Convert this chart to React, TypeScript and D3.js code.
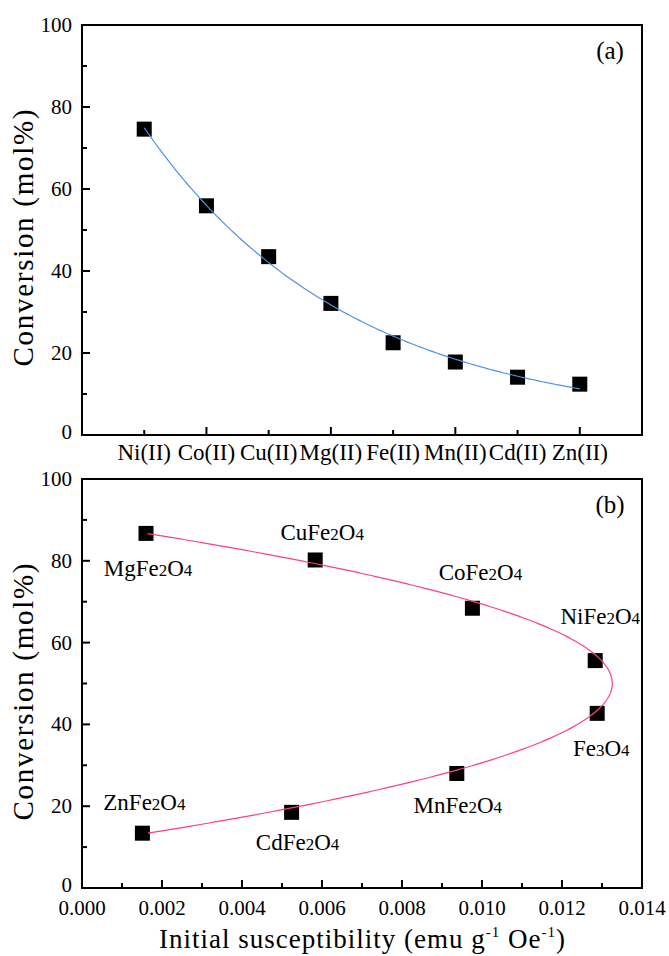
import React, { useEffect, useRef } from "react";
import * as d3 from "d3";

// panel (a): conversion vs. metal ion
const metals = ["Ni(II)", "Co(II)", "Cu(II)", "Mg(II)", "Fe(II)", "Mn(II)", "Cd(II)", "Zn(II)"];
const conversionA = [74.6, 55.9, 43.5, 32.1, 22.5, 17.8, 14.1, 12.4];

// panel (b): conversion vs. initial susceptibility
const ferrites = ["MgFe2O4", "CuFe2O4", "CoFe2O4", "NiFe2O4", "Fe3O4", "MnFe2O4", "CdFe2O4", "ZnFe2O4"];
const susceptibility = [0.0016, 0.00583, 0.00976, 0.01283, 0.01288, 0.00937, 0.00524, 0.00151];
const conversionB = [86.7, 80.2, 68.4, 55.6, 42.7, 28.0, 18.5, 13.4];
// fit weights (end points pinned harder)
const fitWeights = [5, 1, 1, 1, 1, 1, 1, 5];

// label offsets (px) from each point in panel (b)
const labelOffsets = [
  [2, 43], [7, -20], [8, -28], [5, -37], [4, 43], [1, 40], [6, 38], [2, -23],
];

const W = 669;
const H = 956;
const FONT = "'Liberation Serif', 'Times New Roman', serif";

// exponential decay fit y = y0 + A*exp(-x/t)
function fitExp(xs: number[], ys: number[]) {
  let best = { sse: Infinity, y0: 0, a: 0, t: 1 };
  for (let t = 0.3; t < 30; t += 0.01) {
    const e = xs.map(x => Math.exp(-x / t));
    const n = xs.length;
    const se = d3.sum(e), sy = d3.sum(ys);
    const see = d3.sum(e, v => v * v);
    const sey = d3.sum(e.map((v, i) => v * ys[i]));
    const det = n * see - se * se;
    const a = (n * sey - se * sy) / det;
    const y0 = (sy - a * se) / n;
    const sse = d3.sum(ys.map((y, i) => (y - y0 - a * e[i]) ** 2));
    if (sse < best.sse) best = { sse, y0, a, t };
  }
  return (x: number) => best.y0 + best.a * Math.exp(-x / best.t);
}

// weighted least-squares polynomial x = sum c_k * u^k, with u = (y - 50) / 50
function fitPoly(ys: number[], xs: number[], ws: number[], deg: number) {
  const us = ys.map(y => (y - 50) / 50);
  const m = deg + 1;
  const M: number[][] = [];
  for (let i = 0; i < m; i++) {
    const row: number[] = [];
    for (let j = 0; j < m; j++) row.push(d3.sum(us.map((u, k) => ws[k] * u ** (i + j))));
    row.push(d3.sum(us.map((u, k) => ws[k] * xs[k] * u ** i)));
    M.push(row);
  }
  for (let i = 0; i < m; i++) {
    for (let j = i + 1; j < m; j++) {
      const f = M[j][i] / M[i][i];
      for (let k = i; k <= m; k++) M[j][k] -= f * M[i][k];
    }
  }
  const c = new Array(m).fill(0);
  for (let i = m - 1; i >= 0; i--) {
    let s = M[i][m];
    for (let k = i + 1; k < m; k++) s -= M[i][k] * c[k];
    c[i] = s / M[i][i];
  }
  return (y: number) => {
    const u = (y - 50) / 50;
    return c.reduce((acc, ck, k) => acc + ck * u ** k, 0);
  };
}

const App = () => {
  const ref = useRef<SVGSVGElement>(null);

  useEffect(() => {
    const svg = d3.select(ref.current);
    svg.selectAll("*").remove();

    const left = 82, right = 642;

    // ---------- panel (a) ----------
    const xA = d3.scaleLinear().domain([0, 9]).range([left, right]);
    const yA = d3.scaleLinear().domain([0, 100]).range([435, 25]);
    const gA = svg.append("g");

    drawFrame(gA, xA, yA);
    yTicks(gA, xA, yA);

    // category ticks (alternate long / short)
    metals.forEach((m, i) => {
      const v = i + 1;
      gA.append("line")
        .attr("x1", xA(v)).attr("x2", xA(v))
        .attr("y1", yA(0)).attr("y2", yA(0) - (v % 2 === 0 ? 8 : 5))
        .attr("stroke", "#000").attr("stroke-width", 2);
      gA.append("text")
        .attr("x", xA(v)).attr("y", 460)
        .attr("text-anchor", "middle")
        .style("font-family", FONT).style("font-size", "23px")
        .text(m);
    });

    const xsA = metals.map((_, i) => i + 1);
    gA.selectAll("rect.pt")
      .data(conversionA)
      .enter()
      .append("rect")
      .attr("x", (d, i) => xA(xsA[i]) - 7.5)
      .attr("y", d => yA(d) - 7.5)
      .attr("width", 15).attr("height", 15)
      .attr("fill", "#000");

    const fA = fitExp(xsA, conversionA);
    const curveA = d3.range(1, 8.001, 0.05).map(x => [x, fA(x)] as [number, number]);
    gA.append("path")
      .attr("d", d3.line().x(d => xA(d[0])).y(d => yA(d[1])).curve(d3.curveMonotoneX)(curveA))
      .attr("fill", "none").attr("stroke", "#4a93e6").attr("stroke-width", 1.2);

    yTitle(gA, 238);
    gA.append("text")
      .attr("x", 610).attr("y", 59).attr("text-anchor", "middle")
      .style("font-family", FONT).style("font-size", "25px")
      .text("(a)");

    // ---------- panel (b) ----------
    const xB = d3.scaleLinear().domain([0, 0.014]).range([left, right]);
    const yB = d3.scaleLinear().domain([0, 100]).range([888, 479]);
    const gB = svg.append("g");

    drawFrame(gB, xB, yB);
    yTicks(gB, xB, yB);

    d3.range(0, 15).forEach(k => {
      const v = k / 1000;
      const major = k % 2 === 0;
      gB.append("line")
        .attr("x1", xB(v)).attr("x2", xB(v))
        .attr("y1", yB(0)).attr("y2", yB(0) - (major ? 8 : 5))
        .attr("stroke", "#000").attr("stroke-width", 2);
      if (major) {
        gB.append("text")
          .attr("x", xB(v)).attr("y", 915)
          .attr("text-anchor", "middle")
          .style("font-family", FONT).style("font-size", "21px")
          .text(d3.format(".3f")(v));
      }
    });

    gB.selectAll("rect.pt")
      .data(conversionB)
      .enter()
      .append("rect")
      .attr("x", (d, i) => xB(susceptibility[i]) - 7.5)
      .attr("y", d => yB(d) - 7.5)
      .attr("width", 15).attr("height", 15)
      .attr("fill", "#000");

    const fB = fitPoly(conversionB, susceptibility, fitWeights, 2);
    const yMin = d3.min(conversionB) as number, yMax = d3.max(conversionB) as number;
    const curveB = d3.range(yMin, yMax + 0.001, 0.25).map(y => [fB(y), y] as [number, number]);
    gB.append("path")
      .attr("d", d3.line().x(d => xB(d[0])).y(d => yB(d[1])).curve(d3.curveLinear)(curveB))
      .attr("fill", "none").attr("stroke", "#ff3d8f").attr("stroke-width", 1.2);

    // formula labels with small digits
    ferrites.forEach((f, i) => {
      const t = gB.append("text")
        .attr("x", xB(susceptibility[i]) + labelOffsets[i][0])
        .attr("y", yB(conversionB[i]) + labelOffsets[i][1])
        .attr("text-anchor", "middle")
        .style("font-family", FONT).style("font-size", "23px");
      f.split(/(\d)/).filter(s => s.length).forEach(part => {
        const sp = t.append("tspan").text(part);
        if (/\d/.test(part)) sp.style("font-size", "17px");
      });
    });

    yTitle(gB, 692);
    gB.append("text")
      .attr("x", 610).attr("y", 513).attr("text-anchor", "middle")
      .style("font-family", FONT).style("font-size", "25px")
      .text("(b)");

    // x-axis title with superscripts
    const xt = gB.append("text")
      .attr("x", 362).attr("y", 948)
      .attr("text-anchor", "middle")
      .attr("textLength", 406).attr("lengthAdjust", "spacing")
      .style("font-family", FONT).style("font-size", "27px");
    xt.append("tspan").text("Initial susceptibility (emu g");
    xt.append("tspan").attr("dy", -11).style("font-size", "15px").text("-1");
    xt.append("tspan").attr("dy", 11).text(" Oe");
    xt.append("tspan").attr("dy", -11).style("font-size", "15px").text("-1");
    xt.append("tspan").attr("dy", 11).text(")");

    function drawFrame(g: any, x: any, y: any) {
      const [x0, x1] = x.range();
      const [y0, y1] = y.range();
      g.append("rect")
        .attr("x", x0).attr("y", y1)
        .attr("width", x1 - x0).attr("height", y0 - y1)
        .attr("fill", "none").attr("stroke", "#000").attr("stroke-width", 2);
    }

    function yTicks(g: any, x: any, y: any) {
      const x0 = x.range()[0];
      d3.range(0, 101, 10).forEach(v => {
        const major = v % 20 === 0;
        g.append("line")
          .attr("x1", x0).attr("x2", x0 + (major ? 8 : 5))
          .attr("y1", y(v)).attr("y2", y(v))
          .attr("stroke", "#000").attr("stroke-width", 2);
        if (major) {
          g.append("text")
            .attr("x", x0 - 10).attr("y", y(v) - (v === 0 ? 3 : 0)).attr("dy", "0.33em")
            .attr("text-anchor", "end")
            .style("font-family", FONT).style("font-size", "21px")
            .text(v);
        }
      });
    }

    function yTitle(g: any, cy: number) {
      g.append("text")
        .attr("transform", `translate(33, ${cy}) rotate(-90)`)
        .attr("text-anchor", "middle")
        .attr("textLength", 257).attr("lengthAdjust", "spacing")
        .style("font-family", FONT).style("font-size", "29px")
        .text("Conversion (mol%)");
    }
  }, []);

  return (
    <svg
      ref={ref}
      width={W}
      height={H}
      style={{ position: "absolute", left: 0, top: 0, background: "#fff" }}
    />
  );
};

export default App;
